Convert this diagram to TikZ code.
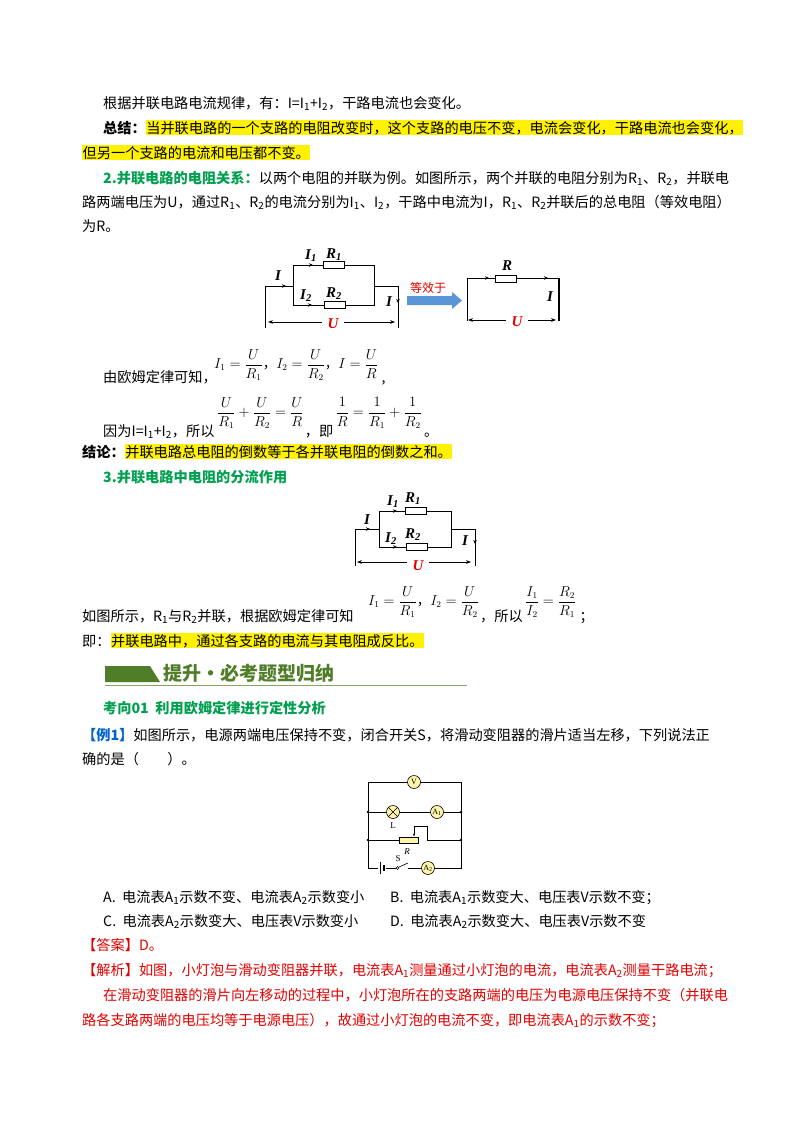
\documentclass[tikz,border=0pt]{standalone}
\usepackage{fontspec}
\setmainfont{Noto Sans CJK SC}
\newfontfamily\lserif{Liberation Serif}
\usetikzlibrary{arrows.meta}
\definecolor{gr}{RGB}{0,160,80}
\definecolor{hd}{RGB}{80,125,40}
\definecolor{rd}{RGB}{225,0,0}
\definecolor{bl}{RGB}{0,100,200}
\definecolor{my}{RGB}{255,245,170}
\definecolor{ab}{RGB}{90,150,215}
\newcommand{\fs}{\fontsize{14.2}{17}\selectfont}
\newcommand{\hl}[1]{\colorbox{yellow}{#1}}
\newcommand{\sub}[1]{\textsubscript{#1}}
\setlength{\fboxsep}{0.5pt}
\tikzset{
 tx/.style={anchor=base west,inner sep=0pt,font=\fs},
 fm/.style={anchor=west,inner sep=0pt,font=\fontsize{13.5}{16}\selectfont},
 wire/.style={line width=1pt},
 arr/.style={-{Stealth[length=4pt,width=3.5pt]},line width=0.8pt},
 lab/.style={font=\lserif\bfseries\itshape\fontsize{15}{16}\selectfont,inner sep=0pt},
 res/.style={draw,line width=1pt,fill=white,minimum width=21pt,minimum height=7pt,inner sep=0pt},
 meter/.style={circle,draw,fill=my,minimum size=13pt,inner sep=0pt,font=\lserif\fontsize{8}{9}\selectfont},
 dim/.style={{Stealth[length=5pt]}-{Stealth[length=5pt]},line width=0.7pt}
}
\begin{document}
\begin{tikzpicture}[x=1pt,y=-1pt]
\useasboundingbox (0,0) rectangle (800,1132);
\fill[white] (0,0) rectangle (800,1132);
\node[tx] (l1) at (103,108) {根据并联电路电流规律，有：I=I\sub{1}+I\sub{2}，干路电流也会变化。};
\node[tx] (l2) at (103,133) {\textbf{总结：}\hl{当并联电路的一个支路的电阻改变时，这个支路的电压不变，电流会变化，干路电流也会变化，}};
\node[tx] (l3) at (82,158) {\hl{但另一个支路的电流和电压都不变。}};
\node[tx] (l4) at (103,183) {\textcolor{gr}{\textbf{2.并联电路的电阻关系：}}以两个电阻的并联为例。如图所示，两个并联的电阻分别为R\sub{1}、R\sub{2}，并联电};
\node[tx] (l5) at (82,207) {路两端电压为U，通过R\sub{1}、R\sub{2}的电流分别为I\sub{1}、I\sub{2}，干路中电流为I，R\sub{1}、R\sub{2}并联后的总电阻（等效电阻）};
\node[tx] (l6) at (82,231) {为R。};
% circuit 1
\draw[wire] (265,328) -- (265,286) -- (293,286);
\draw[wire] (293,265) -- (293,305);
\draw[wire] (293,265) -- (374,265) -- (374,305) -- (293,305);
\draw[wire] (374,286) -- (398,286) -- (398,328);
\node[res] (r1) at (334,265) {};
\node[res] (r2) at (335,305) {};
\draw[arr] (280,286) -- (286,286);
\draw[arr] (307,265) -- (313,265);
\draw[arr] (306,305) -- (312,305);
\draw[arr] (398,297) -- (398,303);
\node[lab] at (278,276) {I};
\node[lab] at (311,256) {I\textsubscript{1}};
\node[lab] at (334,255) {R\textsubscript{1}};
\node[lab] at (306,296) {I\textsubscript{2}};
\node[lab] at (334,294) {R\textsubscript{2}};
\node[lab] at (389,302) {I};
\draw[dim] (268,322) -- (395,322);
\fill[white] (322,316) rectangle (344,328);
\node[lab,text=rd] (u1) at (333,324) {U};
\fill[ab] (407,296) -- (452,296) -- (452,292) -- (462,300.5) -- (452,309) -- (452,305) -- (407,305) -- cycle;
\node[font=\fontsize{12}{13}\selectfont,text=rd,inner sep=0pt] (eq) at (428,288) {等效于};
\draw[wire] (467,321) -- (467,278) -- (559,278);
\draw[line width=1.6pt] (559,277.5) -- (559,321);
\node[res] (r) at (506,279) {};
\draw[arr] (483,278) -- (489,278);
\draw[arr] (542,278) -- (548,278);
\node[lab] at (507,266) {R};
\node[lab] at (550,297) {I};
\draw[dim] (468,320) -- (556,320);
\fill[white] (506,314) rectangle (528,326);
\node[lab,text=rd] at (517,322) {U};
% formulas 1
\node[tx] (l7) at (103,382) {由欧姆定律可知，};
\node[fm] (f1) at (214,365) {$\displaystyle I_1=\frac{U}{R_1}$，$\displaystyle I_2=\frac{U}{R_2}$，$\displaystyle I=\frac{U}{R}$};
\node[tx] at ([xshift=3pt]f1.east |- l7.base) {,};
\node[tx] (l8) at (103,436) {因为I=I\sub{1}+I\sub{2}，所以};
\node[fm] (f2) at (217,413) {$\displaystyle \frac{U}{R_1}+\frac{U}{R_2}=\frac{U}{R}$};
\node[tx] (ji) at ([xshift=1pt]f2.east |- l8.base) {，即};
\node[fm] (f3) at ([xshift=2pt]ji.east |- f2.west) {$\displaystyle \frac{1}{R}=\frac{1}{R_1}+\frac{1}{R_2}$};
\node[tx] at ([xshift=2pt]f3.east |- l8.base) {。};
\node[tx] (l9) at (82,457) {\textbf{结论：}\hl{并联电路总电阻的倒数等于各并联电阻的倒数之和。}};
\node[tx] (l10) at (103,482) {\textcolor{gr}{\textbf{3.并联电路中电阻的分流作用}}};
% circuit 2
\draw[wire] (355,566) -- (355,529) -- (379,529);
\draw[wire] (379,511) -- (451,511) -- (451,547) -- (379,547) -- cycle;
\draw[wire] (451,529) -- (475,529) -- (475,566);
\node[res] at (416,511) {};
\node[res] at (417,547) {};
\draw[arr] (364,529) -- (370,529);
\draw[arr] (391,511) -- (397,511);
\draw[arr] (391,547) -- (397,547);
\draw[arr] (475,538) -- (475,544);
\node[lab] at (367,520) {I};
\node[lab] at (393,502) {I\textsubscript{1}};
\node[lab] at (413,499) {R\textsubscript{1}};
\node[lab] at (391,539) {I\textsubscript{2}};
\node[lab] at (413,535) {R\textsubscript{2}};
\node[lab] at (465,541) {I};
\draw[dim] (357,562) -- (471,562);
\fill[white] (407,556) rectangle (429,570);
\node[lab,text=rd] at (418,566) {U};
% formulas 3
\node[tx] (l11) at (82,621) {如图所示，R\sub{1}与R\sub{2}并联，根据欧姆定律可知};
\node[fm] (f4) at (368,602) {$\displaystyle I_1=\frac{U}{R_1}$，$\displaystyle I_2=\frac{U}{R_2}$};
\node[tx] (sy) at ([xshift=1pt]f4.east |- l11.base) {，所以};
\node[fm] (f5) at ([xshift=2pt]sy.east |- f4.west) {$\displaystyle \frac{I_1}{I_2}=\frac{R_2}{R_1}$};
\node[tx] at ([xshift=3pt]f5.east |- l11.base) {；};
\node[tx] (l12) at (82,646) {即：\hl{并联电路中，通过各支路的电流与其电阻成反比。}};
% header
\fill[hd] (105,666) -- (150,666) -- (160,682) -- (105,682) -- cycle;
\node[anchor=west,inner sep=0pt,text=hd,font=\bfseries\fontsize{19}{20}\selectfont] (hdr) at (163,673) {提升·必考题型归纳};
\draw[hd!70,line width=0.8pt] (105,685) -- (467,685);
\node[tx] (l13) at (103,713) {\textcolor{gr}{\textbf{考向01\ \ 利用欧姆定律进行定性分析}}};
\node[tx] (l14) at (82,740) {\textcolor{bl}{\textbf{【例1】}}如图所示，电源两端电压保持不变，闭合开关S，将滑动变阻器的滑片适当左移，下列说法正};
\node[tx] (l15) at (82,764) {确的是（\quad\quad）。};
% circuit 3
\begin{scope}[line width=0.6pt]
\draw (368,782) rectangle (461,868);
\draw (368,812) -- (461,812);
\draw (368,840) -- (399,840);
\draw (427,840) -- (461,840);
\foreach \x/\y in {368/812,461/812,368/840,461/840} \fill (\x,\y) circle (1.3pt);
\node[meter] (v) at (414,782) {V};
\node[meter] (lamp) at (393,812) {};
\draw (lamp.45) -- (lamp.225) (lamp.135) -- (lamp.315);
\node[meter] (a1) at (437,812) {A\textsubscript{1}};
\node[inner sep=0pt,font=\lserif\fontsize{9}{9}\selectfont] at (393,826) {L};
\node[draw,fill=my,minimum width=19pt,minimum height=6pt,inner sep=0pt,anchor=west] (rh) at (399,840) {};
\draw[-{Stealth[length=3pt]}] (427,840) -- (427,826) -- (414,826) -- (414,836.5);
\node[inner sep=0pt,font=\lserif\itshape\fontsize{9}{9}\selectfont] at (407,852) {R};
\fill[white] (378,862) rectangle (386,874);
\draw (380,862) -- (380,874);
\draw[line width=1.2pt] (384,865) -- (384,871);
\fill[white] (394,862) rectangle (408,872);
\draw (394,868) -- (396,868);
\draw[fill=white] (397.5,868) circle (1.5pt);
\draw (399,867) -- (408,863);
\draw (408,868) -- (409,868);
\node[inner sep=0pt,font=\lserif\fontsize{9}{9}\selectfont] at (398,859) {S};
\node[meter] (a2) at (428,868) {A\textsubscript{2}};
\end{scope}
\node[tx] (oa) at (103,902) {A.\ \ 电流表A\sub{1}示数不变、电流表A\sub{2}示数变小};
\node[tx] (ob) at (390,902) {B.\ \ 电流表A\sub{1}示数变大、电压表V示数不变；};
\node[tx] (oc) at (103,926) {C.\ \ 电流表A\sub{2}示数变大、电压表V示数变小};
\node[tx] (od) at (390,926) {D.\ \ 电流表A\sub{2}示数变大、电压表V示数不变};
\node[tx,text=rd] (ans) at (82,950) {【答案】D。};
\node[tx,text=rd] (j1) at (82,975) {【解析】如图，小灯泡与滑动变阻器并联，电流表A\sub{1}测量通过小灯泡的电流，电流表A\sub{2}测量干路电流；};
\node[tx,text=rd] (j2) at (103,1000) {在滑动变阻器的滑片向左移动的过程中，小灯泡所在的支路两端的电压为电源电压保持不变（并联电};
\node[tx,text=rd] (j3) at (82,1025) {路各支路两端的电压均等于电源电压），故通过小灯泡的电流不变，即电流表A\sub{1}的示数不变；};
\end{tikzpicture}
\end{document}
